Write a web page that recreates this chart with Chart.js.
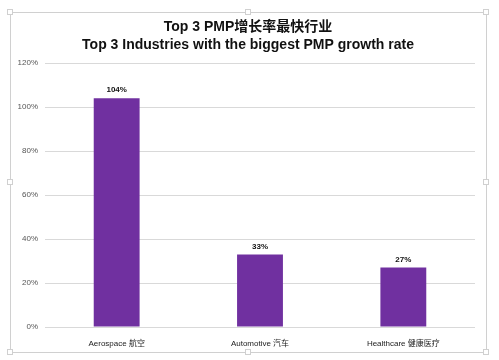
<!DOCTYPE html>
<html>
<head>
<meta charset="utf-8">
<script src="https://cdn.jsdelivr.net/npm/chart.js@4"></script>
<style>
  html, body { margin: 0; padding: 0; background: #fff; }
  #wrap { width: 499px; height: 360px; }
</style>
</head>
<body>
<div id="wrap"><canvas id="growthChart" width="499" height="360"></canvas></div>
<script>
const industries = ["Aerospace 航空", "Automotive 汽车", "Healthcare 健康医疗"];
const growthRates = [104, 33, 27];
const yTicks = [0, 20, 40, 60, 80, 100, 120];
const titleLines = ["Top 3 PMP增长率最快行业", "Top 3 Industries with the biggest PMP growth rate"];

// frame, title and value labels
const decorPlugin = {
  id: "decor",
  beforeDraw(chart) {
    const c = chart.ctx;
    c.save();
    c.strokeStyle = "#d0d0d0";
    c.lineWidth = 1;
    c.strokeRect(10.5, 12.5, 476, 340);
    c.fillStyle = "#fff";
    const handles = [[10, 12], [248, 12], [486, 12], [10, 182], [486, 182], [10, 352], [248, 352], [486, 352]];
    handles.forEach(([x, y]) => {
      c.fillRect(x - 3, y - 3, 6, 6);
      c.strokeRect(x - 2.5, y - 2.5, 5, 5);
    });
    c.restore();
  },
  afterDraw(chart) {
    const c = chart.ctx;
    c.save();
    c.fillStyle = "#111";
    c.textAlign = "center";
    c.textBaseline = "middle";
    c.font = "bold 14px 'Liberation Sans', Arial, 'Noto Sans CJK SC', sans-serif";
    c.fillText(titleLines[0], 248, 27);
    c.fillText(titleLines[1], 248, 45);

    c.font = "bold 8px 'Liberation Sans', Arial, sans-serif";
    c.textBaseline = "bottom";
    const meta = chart.getDatasetMeta(0);
    meta.data.forEach((bar, i) => {
      c.fillText(growthRates[i] + "%", bar.x, bar.y - 4);
    });
    c.restore();
  }
};

const ctx = document.getElementById("growthChart").getContext("2d");
new Chart(ctx, {
  type: "bar",
  data: {
    labels: industries,
    datasets: [
      {
        label: "Growth rate",
        data: growthRates,
        backgroundColor: "#7030A0",
        barPercentage: 0.32,
        categoryPercentage: 1.0,
      },
    ],
  },
  options: {
    responsive: false,
    animation: false,
    layout: { padding: { top: 63, left: 10, right: 24, bottom: 3 } },
    plugins: {
      legend: { display: false },
      title: { display: false },
      tooltip: { enabled: false },
    },
    scales: {
      x: {
        grid: { display: false },
        border: { display: false },
        ticks: {
          padding: 4,
          color: "#222",
          font: { size: 8, family: "'Liberation Sans', Arial, 'Noto Sans CJK SC', sans-serif" },
        },
        afterFit(scale) { scale.height = 30; },
      },
      y: {
        min: 0,
        max: 120,
        afterBuildTicks(scale) { scale.ticks = yTicks.map((v) => ({ value: v })); },
        grid: { color: "#d9d9d9", drawTicks: false },
        border: { display: false },
        ticks: {
          padding: 7,
          color: "#555",
          font: { size: 8, family: "'Liberation Sans', Arial, sans-serif" },
          callback: (v) => v + "%",
        },
        afterFit(scale) { scale.width = 35; },
      },
    },
  },
  plugins: [decorPlugin],
});
</script>
</body>
</html>
